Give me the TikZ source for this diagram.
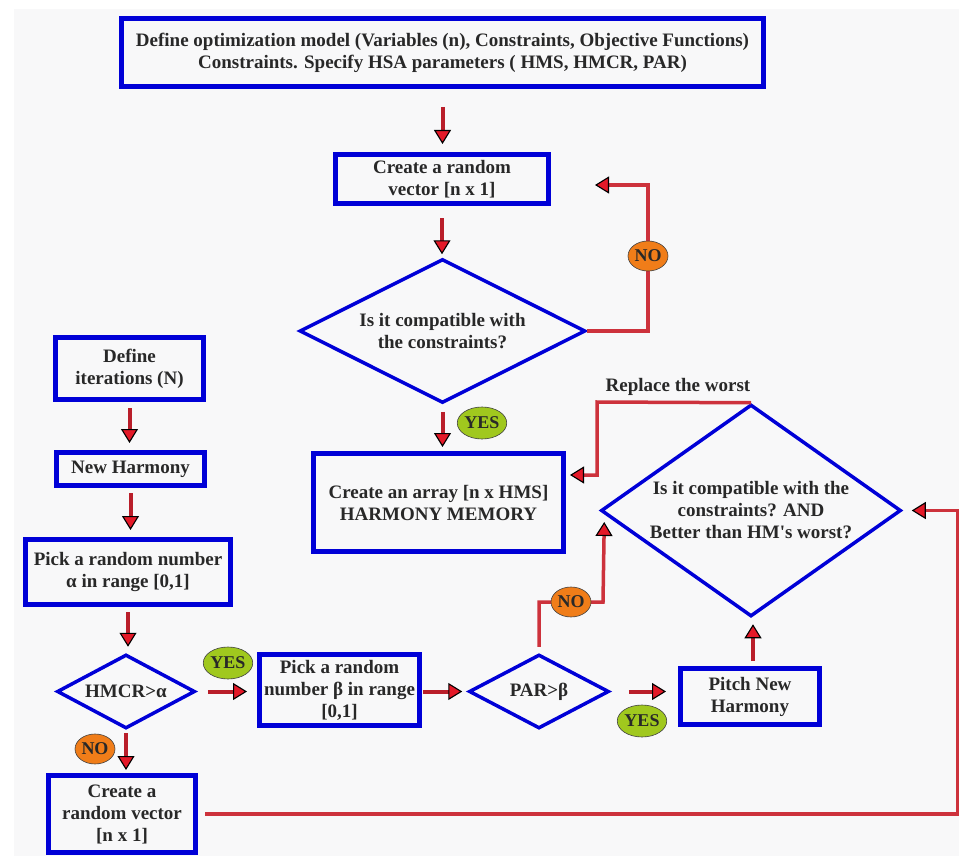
\documentclass[tikz,border=0pt]{standalone}
\usepackage{fontspec}
\setmainfont{Liberation Serif}
\newfontfamily\plainserif{Liberation Serif}[Ligatures=TeXOff]
\usetikzlibrary{arrows.meta,shapes.geometric,calc}
\definecolor{boxblue}{RGB}{0,0,215}
\definecolor{txt}{RGB}{40,40,40}
\definecolor{lnred}{RGB}{205,50,60}
\definecolor{arred}{RGB}{228,25,40}
\definecolor{shaftred}{RGB}{185,30,42}
\definecolor{noorange}{RGB}{240,125,25}
\definecolor{yesgreen}{RGB}{160,200,30}
\definecolor{bgc}{RGB}{248,248,249}
\begin{document}
\begin{tikzpicture}[x=1pt,y=-1pt,
  every node/.style={text=txt, font=\bfseries\fontsize{19}{22}\selectfont, align=center},
  box/.style={draw=boxblue, line width=5pt, inner sep=0pt},
  dia/.style={diamond, draw=boxblue, line width=3.5pt, inner sep=0pt},
  tipend/.style={-{Triangle[length=14pt,width=17pt,fill=arred,color=black,line width=1.1pt]}},
  flow/.style={tipend, draw=shaftred, line width=4pt},
  conn/.style={draw=lnred, line width=3.5pt},
  connarr/.style={conn, tipend},
  lblno/.style={ellipse, draw=black!75, line width=0.6pt, fill=noorange, minimum width=40pt, minimum height=30pt, inner sep=0pt, font=\bfseries\fontsize{18}{20}\selectfont},
  lblyes/.style={ellipse, draw=black!75, line width=0.6pt, fill=yesgreen, minimum width=47pt, minimum height=32pt, inner sep=0pt, font=\bfseries\fontsize{18}{20}\selectfont},
]
\fill[white] (0,0) rectangle (959,856);
\fill[bgc] (14,9) rectangle (959,856);
\useasboundingbox (0,0) rectangle (959,856);

% nodes
\node[box, minimum width=642pt, minimum height=68pt] (top) at (442.5,52.5)
  {Define optimization model (Variables (n), Constraints, Objective Functions)\\Constraints. Specify HSA parameters ( HMS, HMCR, PAR)};
\node[box, minimum width=213pt, minimum height=49pt] (crv) at (442,179) {Create a random\\vector {[n x 1]}};
\node[dia, aspect=2, minimum width=286pt, minimum height=144pt] (d1) at (442.5,331) {Is it compatible with\\the constraints?};
\node[box, minimum width=250pt, minimum height=98pt] (arr) at (438.5,502.5) {Create an array {[n x HMS]}\\HARMONY MEMORY};
\node[dia, aspect=1.415, minimum width=300pt, minimum height=212pt] (d2) at (751,510.5)
  {Is it compatible with the\\constraints? AND\\Better than HM{\plainserif\bfseries '}s worst?};
\node[box, minimum width=148pt, minimum height=62pt] (defit) at (129.5,368.5) {Define\\iterations (N)};
\node[box, minimum width=148pt, minimum height=33pt] (newh) at (130.5,469) {New Harmony};
\node[box, minimum width=205pt, minimum height=65pt] (pickA) at (128,572) {Pick a random number\\{α in range [0,1]}};
\node[dia, aspect=1.86, minimum width=138pt, minimum height=74pt] (hmcr) at (126,691.5) {HMCR>α};
\node[box, minimum width=160pt, minimum height=71pt] (pickB) at (339.5,690) {Pick a random\\number β in range\\{[0,1]}};
\node[dia, aspect=1.89, minimum width=140pt, minimum height=74pt] (par) at (539,691.5) {PAR>β};
\node[box, minimum width=139pt, minimum height=56pt] (pitch) at (750,696.5) {Pitch New\\Harmony};
\node[box, minimum width=147pt, minimum height=77pt] (crv2) at (122,814) {Create a\\random vector\\{[n x 1]}};

% straight flow arrows
\draw[flow, shorten <=18pt, shorten >=8pt] (top.south) -- (top.south |- crv.north);
\draw[flow, shorten <=12pt, shorten >=3pt] (crv.south) -- (crv.south |- d1.north);
\draw[flow, shorten <=7pt, shorten >=4pt] (d1.south) -- (d1.south |- arr.north);
\draw[flow, shorten <=6pt, shorten >=7pt] (defit.south) -- (defit.south |- newh.north);
\draw[flow, shorten <=5pt, shorten >=7pt] (newh.south) -- (newh.south |- pickA.north);
\draw[flow, shorten <=5pt, shorten >=6pt] (pickA.south) -- (pickA.south |- hmcr.north);
\draw[flow, shorten <=11pt, shorten >=10pt] (hmcr.east) -- (hmcr.east -| pickB.west);
\draw[flow, shorten <=3pt, shorten >=3pt] (hmcr.south) -- (hmcr.south |- crv2.north);
\draw[flow, shorten <=1pt, shorten >=5pt] (pickB.east |- par.west) -- (par.west);
\draw[flow, shorten <=18pt, shorten >=12pt] (par.east) -- (par.east -| pitch.west);
\draw[flow, shorten <=5pt, shorten >=6pt] ([xshift=3pt]pitch.north) -- ([xshift=3pt]pitch.north |- d2.south);

% loop connectors
\coordinate (k1) at (648,185);
\coordinate (k1e) at ($(crv.east)+(44,6)$);
\draw[connarr] (d1.east) -| (k1) -- (k1e);
\node[lblno] (no1) at (648,256) {NO};

\coordinate (k2) at (597,402);
\coordinate (k2e) at ($(arr.east)+(4,-27.5)$);
\draw[connarr] (d2.north) -- (k2) |- (k2e);
\node (rep) at (678,387) {Replace the worst};

\coordinate (k3) at (603,602);
\coordinate (k3e) at ($(d2.west)+(5,11.5)$);
\draw[connarr, shorten <=6pt] (par.north) |- (k3) -- (k3e);
\node[lblno] (no3) at (571,602) {NO};

\coordinate (k4) at (958,510.5);
\coordinate (k4e) at ($(d2.east)+(9,0)$);
\draw[connarr, shorten <=7pt] (crv2.east) -| (k4) -- (k4e);

% labels
\node[lblyes] (yes1) at (482,423) {YES};
\node[lblyes] (yes2) at (228,663) {YES};
\node[lblyes] (yes3) at (642,721) {YES};
\node[lblno] (no2) at (95,749) {NO};
\end{tikzpicture}
\end{document}
